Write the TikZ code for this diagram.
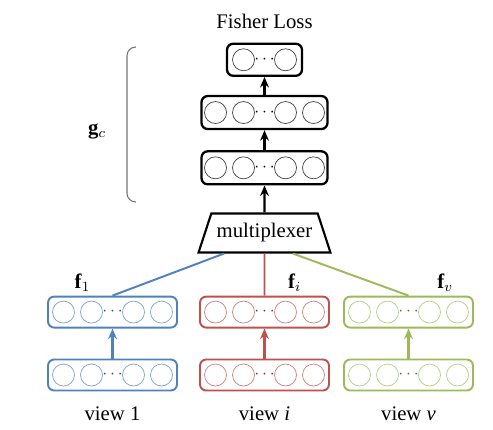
\documentclass[tikz,border=0pt]{standalone}
\usepackage{fontspec}
\setmainfont{Liberation Serif}
\usepackage{tikz}
\usetikzlibrary{shapes.geometric,arrows.meta,positioning,calc}
\definecolor{ViewBlue}{HTML}{4F81BD}
\definecolor{ViewRed}{HTML}{C0504D}
\definecolor{ViewGreen}{HTML}{9BBB59}
\tikzset{
    % shared layers, black outline
    layerbox/.style={
        rectangle,
        rounded corners=3.5pt,
        draw=black,
        line width=1.3pt,
        minimum width=2.52cm,
        minimum height=0.66cm
    },
    % per-view layers
    viewbox/.style={
        rectangle,
        rounded corners=3.5pt,
        draw=#1,
        line width=1.1pt,
        minimum width=2.58cm,
        minimum height=0.62cm
    },
    unit/.style={
        draw=#1,
        line width=0.4pt
    },
    muxbox/.style={
        trapezium,
        draw=black,
        line width=1.2pt,
        trapezium left angle=62,
        trapezium right angle=62,
        trapezium stretches=true,
        minimum width=2.64cm,
        minimum height=0.78cm,
        inner sep=1pt
    },
    arrow/.style={
        -{Stealth[length=6pt,width=5pt]},
        line width=1.3pt
    },
    viewarrow/.style={
        -{Stealth[length=6pt,width=5pt]},
        line width=1.3pt,
        color=#1
    },
    link/.style={
        line width=1.1pt,
        color=#1
    },
    caption/.style={
        font=\fontsize{11.8}{14}\selectfont
    }
}
% circles of one layer: node, colour, offsets
\newcommand{\units}[3]{%
    \foreach \dx in {#3}
        \draw[unit=#2!75] ($(#1)+(\dx,0)$) circle[radius=0.22cm];
    \node[font=\normalsize, text=#2!60!black] at (#1) {$\cdots$};
}

\begin{document}
\begin{tikzpicture}[x=0.02cm, y=-0.02cm]
    \useasboundingbox (0,0) rectangle (493,429);

    % views
    \node[viewbox=ViewBlue] (xone) at (112.5,375) {};
    \node[viewbox=ViewRed] (xi) at (264.5,375) {};
    \node[viewbox=ViewGreen] (xv) at (408.5,375) {};
    \node[viewbox=ViewBlue, above=0.6cm of xone] (fone) {};
    \node[viewbox=ViewRed, above=0.6cm of xi] (fi) {};
    \node[viewbox=ViewGreen, above=0.6cm of xv] (fv) {};
    \node[caption, below=0.18cm of xone] (vone) {view 1};
    \node[caption, below=0.18cm of xi] (vi) {view \textit{i}};
    \node[caption, below=0.18cm of xv] (vv) {view \textit{v}};

    \units{xone}{ViewBlue}{-49,-21,21,49}
    \units{xi}{ViewRed}{-49,-21,21,49}
    \units{xv}{ViewGreen}{-49,-21,21,49}
    \units{fone}{ViewBlue}{-49,-21,21,49}
    \units{fi}{ViewRed}{-49,-21,21,49}
    \units{fv}{ViewGreen}{-49,-21,21,49}

    \node[caption, anchor=south, inner sep=2pt] (lone) at ($(fone.north west)!0.27!(fone.north east)$) {\textbf{f}$_1$};
    \node[caption, anchor=south, inner sep=2pt] (li) at ($(fi.north west)!0.73!(fi.north east)$) {\textbf{f}$_i$};
    \node[caption, anchor=south, inner sep=2pt] (lv) at ($(fv.north west)!0.78!(fv.north east)$) {\textbf{f}$_v$};

    % shared layers
    \node[muxbox, caption] (mux) at (264.5,233) {multiplexer};
    \node[layerbox, above=0.54cm of mux] (gthree) {};
    \node[layerbox, above=0.4cm of gthree] (gtwo) {};
    \node[layerbox, minimum width=1.5cm, minimum height=0.64cm, above=0.36cm of gtwo] (gone) {};
    \node[caption, above=0.16cm of gone] (loss) {Fisher Loss};

    \units{gthree}{black}{-49,-21,21,49}
    \units{gtwo}{black}{-49,-21,21,49}
    \units{gone}{black}{-21,21}

    \draw[arrow] (mux) -- (gthree);
    \draw[arrow] (gthree) -- (gtwo);
    \draw[arrow] (gtwo) -- (gone);

    \draw[viewarrow=ViewBlue] (xone) -- (fone);
    \draw[viewarrow=ViewRed] (xi) -- (fi);
    \draw[viewarrow=ViewGreen] (xv) -- (fv);

    \draw[link=ViewBlue] (fone.north) -- ($(mux.bottom left corner)!0.2!(mux.bottom right corner)$);
    \draw[link=ViewRed] (fi.north) -- (mux.south);
    \draw[link=ViewGreen] (fv.north) -- ($(mux.bottom left corner)!0.71!(mux.bottom right corner)$);

    % bracket over the shared layers
    \draw[black!55, line width=0.6pt, rounded corners=5pt] (135,47) -- (127,47) -- (127,202) -- (135,202);
    \node[caption] (gc) at (97,131) {\textbf{g}$_c$};
\end{tikzpicture}
\end{document}
